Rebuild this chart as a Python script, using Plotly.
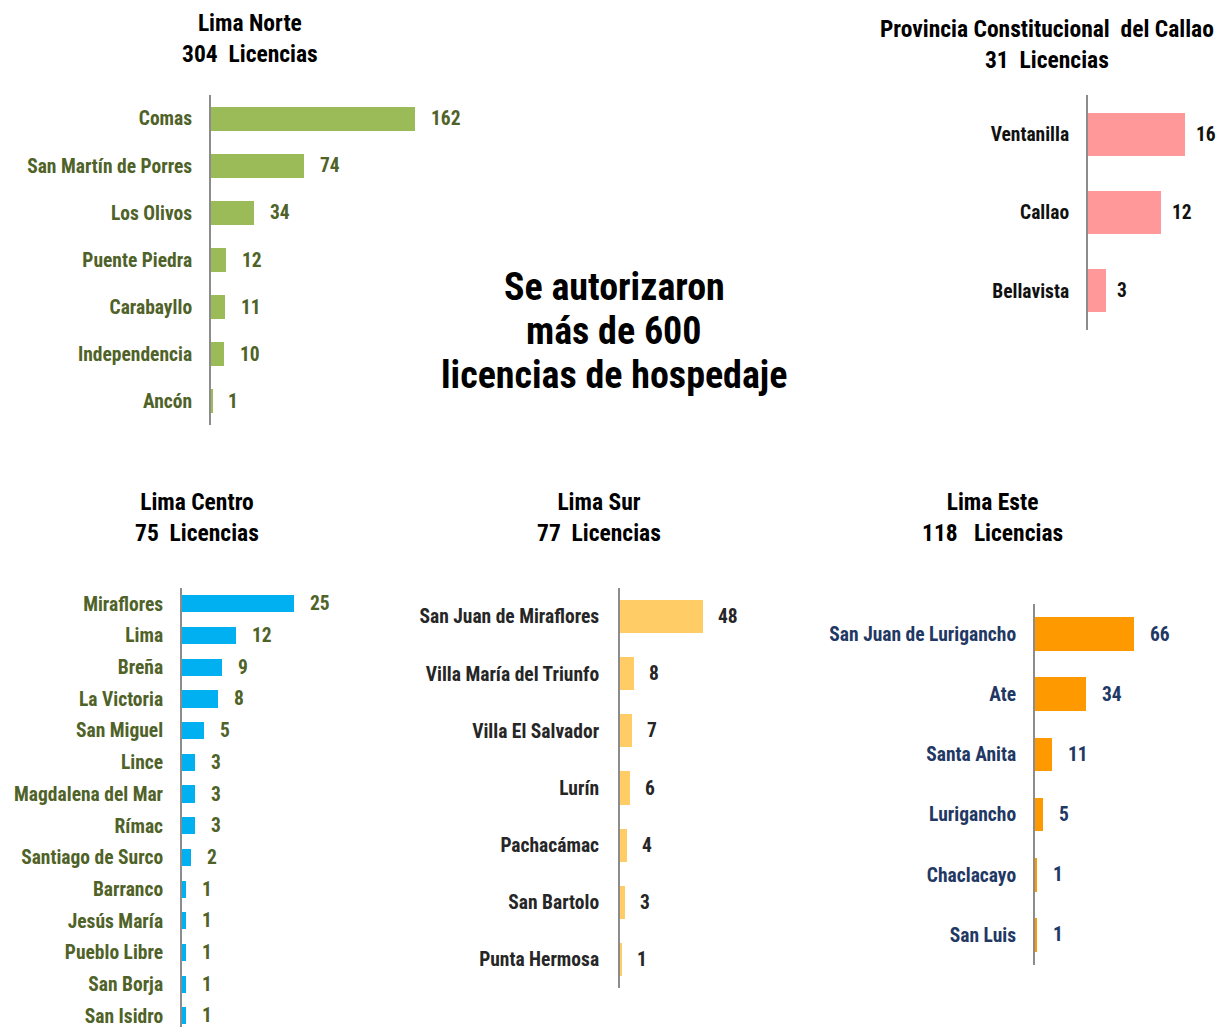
import plotly.graph_objects as go

# ---- data -------------------------------------------------------------
norte_names = ["Comas", "San Martín de Porres", "Los Olivos", "Puente Piedra",
               "Carabayllo", "Independencia", "Ancón"]
norte_vals = [162, 74, 34, 12, 11, 10, 1]

callao_names = ["Ventanilla", "Callao", "Bellavista"]
callao_vals = [16, 12, 3]

centro_names = ["Miraflores", "Lima", "Breña", "La Victoria", "San Miguel", "Lince",
                "Magdalena del Mar", "Rímac", "Santiago de Surco", "Barranco",
                "Jesús María", "Pueblo Libre", "San Borja", "San Isidro"]
centro_vals = [25, 12, 9, 8, 5, 3, 3, 3, 2, 1, 1, 1, 1, 1]

sur_names = ["San Juan de Miraflores", "Villa María del Triunfo", "Villa El Salvador",
             "Lurín", "Pachacámac", "San Bartolo", "Punta Hermosa"]
sur_vals = [48, 8, 7, 6, 4, 3, 1]

este_names = ["San Juan de Lurigancho", "Ate", "Santa Anita", "Lurigancho",
              "Chaclacayo", "San Luis"]
este_vals = [66, 34, 11, 5, 1, 1]

titles = [
    "Lima Norte<br>304  Licencias",
    "Provincia Constitucional  del Callao<br>31  Licencias",
    "Lima Centro<br>75  Licencias",
    "Lima Sur<br>77  Licencias",
    "Lima Este<br>118   Licencias",
]
headline_lines = ["Se autorizaron", "más de 600", "licencias de hospedaje"]

# ---- page geometry ----------------------------------------------------
W, H = 1218, 1027
FONT = "Roboto Condensed, Open Sans Condensed, Liberation Sans Narrow, sans-serif"
LABEL_SIZE = 19.5


def px_x(p):
    return p / W


def px_y(p):
    return 1 - p / H


fig = go.Figure()

panels = [
    dict(names=norte_names, vals=norte_vals, color="#9BBB59", lab="#4F6228",
         x0=211, x1=480, scale=1.259, yt=95, yb=425, rb=None, bw=0.51, shift=14,
         tx=250, ty=39, tick=13),
    dict(names=callao_names, vals=callao_vals, color="#FF9999", lab="#111111",
         x0=1088, x1=1218, scale=6.06, yt=95, yb=330, rb=None, bw=0.55, shift=9,
         tx=1047, ty=44, tick=13),
    dict(names=centro_names, vals=centro_vals, color="#00B0F0", lab="#4F6228",
         x0=182, x1=400, scale=4.48, yt=588, yb=1027, rb=13.35, bw=0.54, shift=14,
         tx=197, ty=517, tick=13),
    dict(names=sur_names, vals=sur_vals, color="#FFCC66", lab="#262626",
         x0=620, x1=800, scale=1.73, yt=588, yb=988, rb=None, bw=0.58, shift=13,
         tx=599, ty=517, tick=15),
    dict(names=este_names, vals=este_vals, color="#FF9900", lab="#1F3864",
         x0=1035, x1=1218, scale=1.5, yt=604, yb=965, rb=None, bw=0.56, shift=14,
         tx=992, ty=517, tick=13),
]

annotations = []
for i, p in enumerate(panels, start=1):
    xa = "x" if i == 1 else f"x{i}"
    ya = "y" if i == 1 else f"y{i}"
    n = len(p["names"])
    fig.add_trace(go.Bar(
        x=p["vals"], y=p["names"], orientation="h",
        marker=dict(color=p["color"], line=dict(width=0)),
        width=p["bw"], xaxis=xa, yaxis=ya, showlegend=False,
        hoverinfo="x+y",
    ))
    rb = p["rb"] if p["rb"] is not None else n - 0.5
    xmax = (p["x1"] - p["x0"]) / p["scale"]
    fig.layout[f"xaxis{'' if i == 1 else i}"] = dict(
        domain=[px_x(p["x0"]), px_x(p["x1"])], range=[0, xmax],
        anchor=ya, visible=False, fixedrange=True, automargin=False,
    )
    fig.layout[f"yaxis{'' if i == 1 else i}"] = dict(
        domain=[px_y(p["yb"]), px_y(p["yt"])], anchor=xa,
        type="category", categoryorder="array", categoryarray=p["names"],
        range=[rb, -0.5], showline=True, linecolor="#8C8C8C", linewidth=2,
        showgrid=False, zeroline=False, ticks="", ticklabelstandoff=p["tick"],
        tickfont=dict(family=FONT, size=LABEL_SIZE, color=p["lab"], weight="bold"),
        fixedrange=True, automargin=False,
    )
    for name, v in zip(p["names"], p["vals"]):
        annotations.append(dict(
            x=v, y=name, xref=xa, yref=ya, text=str(v), showarrow=False,
            xanchor="left", yanchor="middle", xshift=p["shift"],
            font=dict(family=FONT, size=LABEL_SIZE, color=p["lab"], weight="bold"),
        ))
    annotations.append(dict(
        x=px_x(p["tx"]), y=px_y(p["ty"]), xref="paper", yref="paper",
        text=titles[i - 1], showarrow=False, xanchor="center", yanchor="middle",
        font=dict(family=FONT, size=23.5, color="#000000", weight="bold"),
    ))

# centre headline, one annotation per line for tighter leading
for k, line in enumerate(headline_lines):
    annotations.append(dict(
        x=px_x(614), y=px_y(287 + 44 * k), xref="paper", yref="paper", text=line,
        showarrow=False, xanchor="center", yanchor="middle",
        font=dict(family=FONT, size=38, color="#000000", weight="bold"),
    ))

fig.update_layout(
    template="none",
    width=W, height=H, margin=dict(l=0, r=0, t=0, b=0),
    paper_bgcolor="white", plot_bgcolor="rgba(0,0,0,0)",
    annotations=annotations, bargap=0,
)

fig.write_html("out.html", config={"displayModeBar": False})
